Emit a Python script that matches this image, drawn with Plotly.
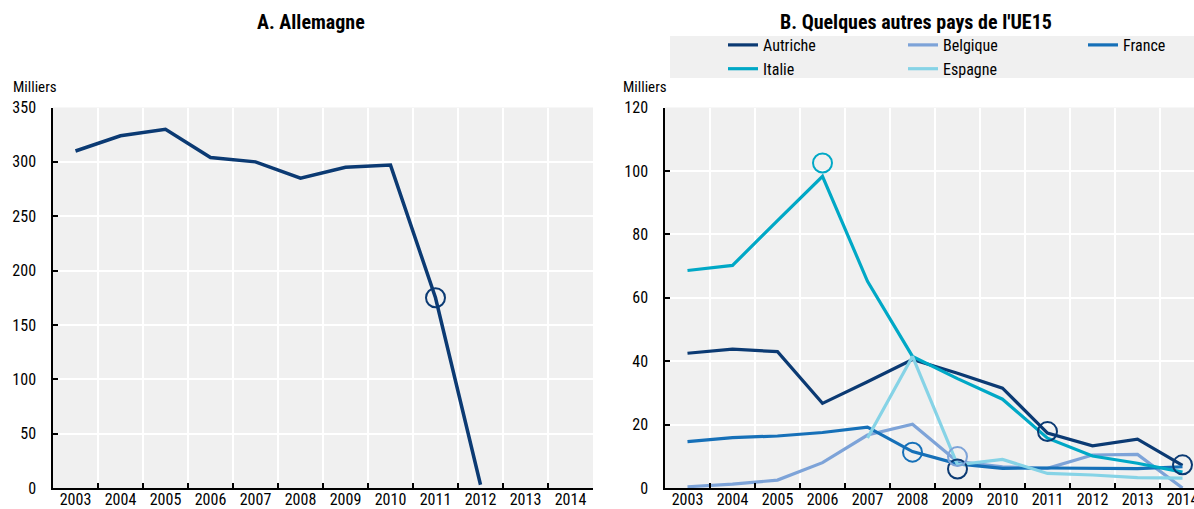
import plotly.graph_objects as go

# Years shared by both panels
years = ["2003", "2004", "2005", "2006", "2007", "2008",
         "2009", "2010", "2011", "2012", "2013", "2014"]

# Panel A: Allemagne (milliers)
allemagne = [310, 324, 330, 304, 300, 285, 295, 297, 175, 3, None, None]
allemagne_break_years = ["2011"]
allemagne_break_vals = [175]

# Panel B: other EU15 countries (milliers)
autriche = [42.5, 43.8, 43.0, 26.7, 33.5, 40.5, 36.2, 31.5, 17.3, 13.3, 15.4, 7.1]
belgique = [0.4, 1.2, 2.5, 8.0, 16.7, 20.1, 8.3, 6.7, 6.2, 10.4, 10.6, 0.0]
france = [14.6, 15.9, 16.4, 17.5, 19.2, 11.5, 7.6, 6.2, 6.3, 6.3, 6.1, 6.7]
italie = [68.6, 70.2, 84.3, 98.3, 65.2, 41.5, 34.5, 28.0, 15.7, 10.1, 7.8, 5.0]
espagne = [None, None, None, None, 15.8, 41.5, 7.3, 9.0, 4.6, 4.1, 3.3, 3.1]

# Series-break circles in panel B
autriche_break_years = ["2009", "2011", "2014"]
autriche_break_vals = [6.0, 17.8, 7.3]
belgique_break_years = ["2009"]
belgique_break_vals = [9.9]
france_break_years = ["2008"]
france_break_vals = [11.3]
italie_break_years = ["2006"]
italie_break_vals = [102.5]

C_AUT = "#0b3a73"
C_BEL = "#7da3d8"
C_FRA = "#1670b8"
C_ITA = "#00a8c6"
C_ESP = "#86d3e6"

FONT = "Roboto Condensed, Arial Narrow, sans-serif"
W, H = 1194, 509


def px_x(p):
    return p / W


def px_y(p):
    return 1 - p / H


fig = go.Figure()

# Panel A
fig.add_trace(go.Scatter(x=years, y=allemagne, mode="lines", line=dict(color=C_AUT, width=3.5),
                         showlegend=False, xaxis="x", yaxis="y", connectgaps=False))
fig.add_trace(go.Scatter(x=allemagne_break_years, y=allemagne_break_vals, mode="markers",
                         marker=dict(symbol="circle-open", size=19, color=C_AUT,
                                     line=dict(color=C_AUT, width=2)),
                         showlegend=False, xaxis="x", yaxis="y"))

# Panel B lines; legend columns follow the three-column key layout
series = [("Autriche", autriche, C_AUT, "legend"),
          ("Belgique", belgique, C_BEL, "legend2"),
          ("France", france, C_FRA, "legend3"),
          ("Italie", italie, C_ITA, "legend"),
          ("Espagne", espagne, C_ESP, "legend2")]
for name, vals, col, leg in series:
    fig.add_trace(go.Scatter(x=years, y=vals, name=name, mode="lines",
                             line=dict(color=col, width=3.2), xaxis="x2", yaxis="y2",
                             showlegend=True, legend=leg))

# Panel B break circles
for bx, bv, col in [(autriche_break_years, autriche_break_vals, C_AUT),
                    (belgique_break_years, belgique_break_vals, C_BEL),
                    (france_break_years, france_break_vals, C_FRA),
                    (italie_break_years, italie_break_vals, C_ITA)]:
    fig.add_trace(go.Scatter(x=bx, y=bv, mode="markers",
                             marker=dict(symbol="circle-open", size=19, color=col,
                                         line=dict(color=col, width=2)),
                             showlegend=False, xaxis="x2", yaxis="y2"))

y_dom = [px_y(488), px_y(107.5)]
TICK_FONT = dict(family=FONT, size=16, color="#000")

xaxis_common = dict(
    type="category", categoryorder="array", categoryarray=years,
    tickson="boundaries", ticks="inside", ticklen=5, tickwidth=1.5, tickcolor="#000",
    showline=True, linecolor="#000", linewidth=1.5,
    showgrid=True, gridcolor="#ffffff", gridwidth=1.5,
    tickfont=TICK_FONT, tickangle=0, ticklabelstandoff=-4, zeroline=False,
    fixedrange=True, automargin=False,
)
yaxis_common = dict(
    ticks="inside", ticklen=5, tickwidth=1.5, tickcolor="#000",
    showline=True, linecolor="#000", linewidth=1.5,
    showgrid=True, gridcolor="#ffffff", gridwidth=1.5,
    tickfont=TICK_FONT, ticklabelstandoff=12, zeroline=False,
    fixedrange=True, automargin=False,
)

LEG_FONT = dict(family=FONT, size=16, color="#000")


def legend_at(px_left):
    return dict(orientation="v", x=px_x(px_left), xanchor="left", y=px_y(28), yanchor="top",
                bgcolor="rgba(0,0,0,0)", font=LEG_FONT, tracegroupgap=0)


fig.update_layout(
    width=W, height=H,
    margin=dict(l=0, r=0, t=0, b=0, autoexpand=False),
    paper_bgcolor="#ffffff", plot_bgcolor="#f0f0f0",
    font=dict(family=FONT, size=14, color="#000"),
    xaxis=dict(domain=[px_x(53), px_x(593)], range=[-0.5, 11.5], anchor="y", **xaxis_common),
    yaxis=dict(domain=y_dom, range=[0, 350], dtick=50, anchor="x", **yaxis_common),
    xaxis2=dict(domain=[px_x(665), 1.0], range=[-0.5, -0.5 + (W - 665) / 45.0], anchor="y2",
                **xaxis_common),
    yaxis2=dict(domain=y_dom, range=[0, 120], dtick=20, anchor="x2", **yaxis_common),
    legend=legend_at(723),
    legend2=legend_at(903),
    legend3=legend_at(1083),
    shapes=[dict(type="rect", xref="paper", yref="paper",
                 x0=px_x(670), x1=1.0, y0=px_y(78), y1=px_y(36),
                 fillcolor="#f0f0f0", line=dict(width=0), layer="below")],
    annotations=[
        dict(text="<b>A. Allemagne</b>", xref="paper", yref="paper", x=px_x(311), y=px_y(22),
             xanchor="center", yanchor="middle", showarrow=False,
             font=dict(family=FONT, size=20, color="#000")),
        dict(text="<b>B. Quelques autres pays de l'UE15</b>", xref="paper", yref="paper",
             x=px_x(916), y=px_y(22), xanchor="center", yanchor="middle", showarrow=False,
             font=dict(family=FONT, size=20, color="#000")),
        dict(text="Milliers", xref="paper", yref="paper", x=px_x(11), y=px_y(87),
             xanchor="left", yanchor="middle", showarrow=False,
             font=dict(family=FONT, size=15, color="#000")),
        dict(text="Milliers", xref="paper", yref="paper", x=px_x(621), y=px_y(87),
             xanchor="left", yanchor="middle", showarrow=False,
             font=dict(family=FONT, size=15, color="#000")),
    ],
)

fig.write_html("out.html")
